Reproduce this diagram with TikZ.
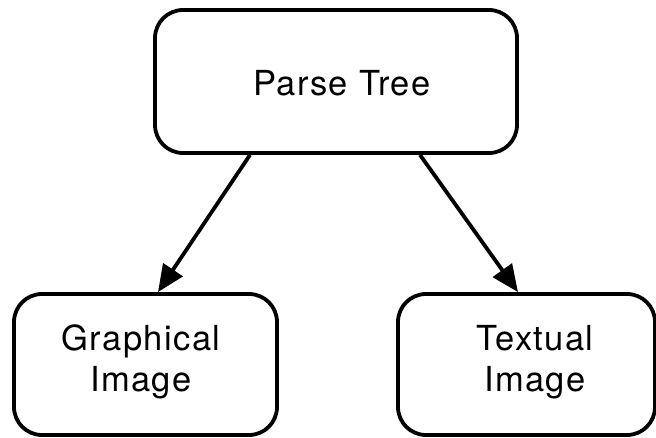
\documentclass[tikz,border=0pt]{standalone}
\usepackage{fontspec}
\setmainfont{TeX Gyre Heros}[LetterSpace=4.0]
\usetikzlibrary{arrows.meta}
\begin{document}
\begin{tikzpicture}[x=1pt,y=-1pt,
  box/.style={draw=black, line width=3.8pt, rounded corners=28pt,
    inner sep=0pt},
  lbl/.style={inner sep=0pt, align=center,
    font=\fontsize{34.5}{41}\selectfont},
  arr/.style={line width=3.8pt,
    -{Triangle[length=27pt,width=23pt]}}]
  \useasboundingbox (0,0) rectangle (656,438);
  % parent node and its two derived views
  \node[box, minimum width=362pt, minimum height=143pt] (pt) at (336,81.5) {};
  \node[box, minimum width=263pt, minimum height=141pt] (gi) at (145.5,364.5) {};
  \node[box, minimum width=257pt, minimum height=141pt] (ti) at (526.5,364.5) {};
  % their captions
  \node[lbl] (ptl) at (342,83.5) {Parse Tree};
  \node[lbl] (gil) at (141,362) {Graphical\\Image};
  \node[lbl] (til) at (535,362) {Textual\\Image};
  % derivation arrows
  \draw[arr] ([xshift=-86pt]pt.south) -- ([xshift=12.5pt]gi.north);
  \draw[arr] ([xshift=84pt]pt.south) -- ([xshift=-8.5pt]ti.north);
\end{tikzpicture}
\end{document}
